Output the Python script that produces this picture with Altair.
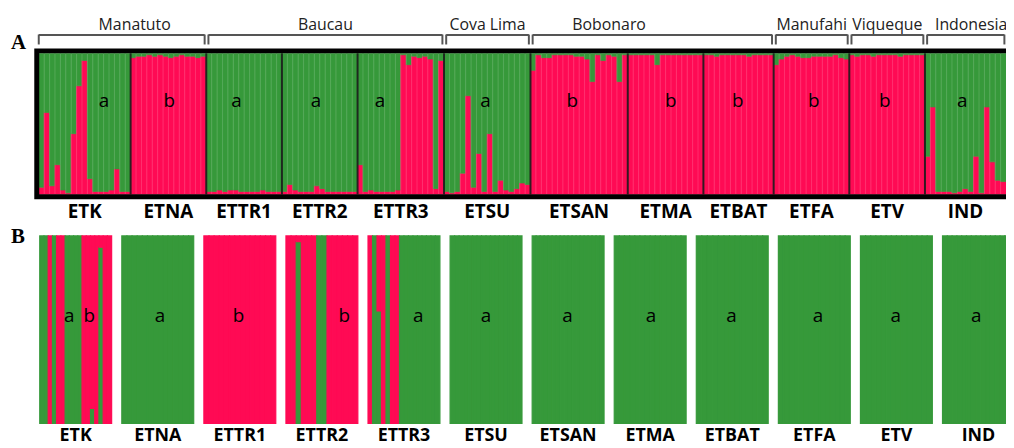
import altair as alt
import pandas as pd

# ---------------- data ----------------
POPS = ["ETK", "ETNA", "ETTR1", "ETTR2", "ETTR3", "ETSU", "ETSAN", "ETMA", "ETBAT", "ETFA", "ETV", "IND"]
REGIONS = ["Manatuto", "Baucau", "Cova Lima", "Bobonaro", "Manufahi", "Viqueque", "Indonesia"]
REGION_POPS = [["ETK", "ETNA"], ["ETTR1", "ETTR2", "ETTR3"], ["ETSU"], ["ETSAN", "ETMA", "ETBAT"],
               ["ETFA"], ["ETV"], ["IND"]]

# Panel A: proportion of each individual assigned to the red cluster
ETK_A = [0.05, 0.58, 0.06, 0.21, 0.03, 0.01, 0.43, 0.77, 0.95, 0.11, 0.02, 0.02, 0.02, 0.03, 0.18, 0.02, 0.02]
ETNA_A = [0.97, 0.98, 0.98, 0.99, 0.98, 0.99, 0.98, 0.97, 0.98, 0.99, 0.98, 0.98, 0.97, 0.98]
ETTR1_A = [0.02, 0.02, 0.03, 0.02, 0.03, 0.03, 0.02, 0.02, 0.02, 0.02, 0.03, 0.02, 0.02, 0.02]
ETTR2_A = [0.02, 0.07, 0.03, 0.02, 0.02, 0.02, 0.06, 0.04, 0.02, 0.02, 0.02, 0.02, 0.02, 0.02]
ETTR3_A = [0.21, 0.02, 0.03, 0.02, 0.02, 0.02, 0.02, 0.03, 0.99, 0.92, 0.98, 0.97, 0.98, 0.96, 0.04, 0.95]
ETSU_A = [0.02, 0.01, 0.02, 0.15, 0.70, 0.05, 0.29, 0.02, 0.43, 0.02, 0.10, 0.03, 0.02, 0.04, 0.08, 0.07]
ETSAN_A = [0.88, 0.99, 0.97, 0.97, 0.99, 0.99, 0.99, 0.99, 0.98, 0.98, 0.96, 0.80, 0.99, 0.95, 0.99, 0.98, 0.80, 0.99]
ETMA_A = [0.99, 0.99, 0.99, 0.99, 0.99, 0.92, 0.99, 0.99, 0.99, 0.99, 0.99, 0.99, 0.99, 0.99]
ETBAT_A = [0.99, 0.99, 0.98, 0.99, 0.99, 0.99, 0.99, 0.99, 0.98, 0.99, 0.99, 0.99, 0.99]
ETFA_A = [0.92, 0.96, 0.98, 0.99, 0.98, 0.97, 0.97, 0.98, 0.98, 0.98, 0.98, 0.99, 0.97, 0.96]
ETV_A = [0.99, 0.98, 0.99, 0.99, 0.98, 0.99, 0.99, 0.99, 0.99, 0.98, 0.99, 0.99, 0.99, 0.99]
IND_A = [0.27, 0.62, 0.02, 0.02, 0.02, 0.01, 0.02, 0.04, 0.02, 0.27, 0.01, 0.62, 0.23, 0.10, 0.09]
A_VALUES = [ETK_A, ETNA_A, ETTR1_A, ETTR2_A, ETTR3_A, ETSU_A, ETSAN_A, ETMA_A, ETBAT_A, ETFA_A, ETV_A, IND_A]
A_LETTERS = ["a", "b", "a", "a", "a", "a", "b", "b", "b", "b", "b", "a"]

# Panel B: proportion of each individual assigned to the green cluster
ETK_B = [1, 1, 0, 1, 0, 0, 1, 1, 1, 1, 0, 0, 0.08, 0, 0.94, 0, 0]
ETNA_B = [1, 1, 1, 1, 1, 1, 1, 1, 1, 1, 1, 1, 1, 1]
ETTR1_B = [0, 0, 0, 0, 0, 0, 0, 0, 0, 0, 0, 0, 0, 0]
ETTR2_B = [0, 0, 0.97, 0, 0, 0, 1, 1, 0, 0, 0, 0, 0, 0]
ETTR3_B = [0, 1, 0.6, 0, 1, 0, 0, 1, 1, 1, 1, 1, 1, 1, 1, 1]
ETSU_B = [1, 1, 1, 1, 1, 1, 1, 1, 1, 1, 1, 1, 1, 1, 1, 1]
ETSAN_B = [1, 1, 1, 1, 1, 1, 1, 1, 1, 1, 1, 1, 1, 1, 1, 1, 1, 1]
ETMA_B = [1, 1, 1, 1, 1, 1, 1, 1, 1, 1, 1, 1, 1, 1]
ETBAT_B = [1, 1, 1, 1, 1, 1, 1, 1, 1, 1, 1, 1, 1]
ETFA_B = [1, 1, 1, 1, 1, 1, 1, 1, 1, 1, 1, 1, 1, 1]
ETV_B = [1, 1, 1, 1, 1, 1, 1, 1, 1, 1, 1, 1, 1, 1]
IND_B = [1, 1, 1, 1, 1, 1, 1, 1, 1, 1, 1, 1, 1, 1, 1]
B_VALUES = [ETK_B, ETNA_B, ETTR1_B, ETTR2_B, ETTR3_B, ETSU_B, ETSAN_B, ETMA_B, ETBAT_B, ETFA_B, ETV_B, IND_B]
B_LETTERS = [["a", "b"], ["a"], ["b"], ["b"], ["a"], ["a"], ["a"], ["a"], ["a"], ["a"], ["a"], ["a"]]

# ---------------- layout (not data) ----------------
W, H = 1006, 440
RED = "#ff0a54"
GREEN = "#36993a"
FONT = "Open Sans"
A_LETTER_FRAC = [0.71, 0.51, 0.40, 0.45, 0.26, 0.48, 0.43, 0.57, 0.49, 0.53, 0.47, 0.46]
B_LETTER_FRAC = [[0.41, 0.69], [0.53], [0.48], [0.81], [0.70], [0.50], [0.49], [0.51], [0.49], [0.55], [0.49], [0.47]]
B_BOX = 0.876
REGION_LABEL_SHIFT = {"Manatuto": 2.4, "Bobonaro": -8.0, "Indonesia": 1.0}


def lin_domain(v0, p0, v1, p1, total, flip=False):
    if flip:
        p0, p1 = total - p0, total - p1
    s = (p1 - p0) / (v1 - v0)
    d0 = v0 - p0 / s
    return [d0, d0 + total / s]


n_total = sum(len(v) for v in A_VALUES)
xA = alt.Scale(domain=lin_domain(0, 31, n_total, 31 + 5.447 * n_total, W), nice=False, zero=False)
yA = alt.Scale(domain=lin_domain(0, 186, 1, 44, H, flip=True), nice=False, zero=False)
xB = alt.Scale(domain=lin_domain(0, 32, 11, 942, W), nice=False, zero=False)
yB = alt.Scale(domain=lin_domain(0, 417, 1, 228, H, flip=True), nice=False, zero=False)

# ---------------- tables ----------------
rows_a, stripes, seps, starts = [], [], [], {}
k = 0
for p, vals in zip(POPS, A_VALUES):
    starts[p] = k
    if k > 0:
        seps.append({"x": k, "y0": 0, "y1": 1})
    for j, r in enumerate(vals):
        rows_a.append({"x": k, "x2": k + 1, "y": 0, "y2": r, "c": "red"})
        rows_a.append({"x": k, "x2": k + 1, "y": r, "y2": 1, "c": "green"})
        if j > 0:
            stripes.append({"x": k, "y0": 0, "y1": 1})
        k += 1
df_a = pd.DataFrame(rows_a)
df_a = df_a[df_a["y2"] > df_a["y"]]
df_stripes = pd.DataFrame(stripes)
df_seps = pd.DataFrame(seps)
df_frame = pd.DataFrame([{"x": -0.37, "x2": n_total + 3, "y": -0.018, "y2": 1.018}])

df_a_lab = pd.DataFrame([{"x": starts[p] + len(v) / 2, "t": p} for p, v in zip(POPS, A_VALUES)])
df_a_let = pd.DataFrame([{"x": starts[p] + f * len(v), "t": l}
                         for p, v, l, f in zip(POPS, A_VALUES, A_LETTERS, A_LETTER_FRAC)])

br_h, br_v, reg_lab = [], [], []
for reg, pops in zip(REGIONS, REGION_POPS):
    s = starts[pops[0]] + (0.0 if reg == "Manatuto" else 0.4)
    e = starts[pops[-1]] + len(A_VALUES[POPS.index(pops[-1])]) - 0.3
    br_h.append({"x": s, "x2": e})
    br_v.append({"x": s})
    br_v.append({"x": e})
    reg_lab.append({"x": (s + e) / 2 + REGION_LABEL_SHIFT.get(reg, 0), "t": reg})
df_br_h = pd.DataFrame(br_h)
df_br_v = pd.DataFrame(br_v)
df_reg = pd.DataFrame(reg_lab)

rows_b, b_let, b_lab = [], [], []
for i, (p, vals) in enumerate(zip(POPS, B_VALUES)):
    n = len(vals)
    for j, g in enumerate(vals):
        x0 = i + j / n * B_BOX
        x1 = i + (j + 1) / n * B_BOX
        rows_b.append({"x": x0, "x2": x1, "y": 0, "y2": g, "c": "green"})
        rows_b.append({"x": x0, "x2": x1, "y": g, "y2": 1, "c": "red"})
    for l, f in zip(B_LETTERS[i], B_LETTER_FRAC[i]):
        b_let.append({"x": i + f * B_BOX, "t": l})
    b_lab.append({"x": i + B_BOX / 2, "t": p})
df_b = pd.DataFrame(rows_b)
df_b = df_b[df_b["y2"] > df_b["y"]]
df_b_let = pd.DataFrame(b_let)
df_b_lab = pd.DataFrame(b_lab)

cscale = alt.Scale(domain=["red", "green"], range=[RED, GREEN])
color = alt.Color("c:N", scale=cscale, legend=None)
stroke = alt.Stroke("c:N", scale=cscale, legend=None)

# ---------------- layers ----------------
a_bars = alt.Chart(df_a).mark_rect(clip=True, strokeWidth=0.7).encode(
    x=alt.X("x:Q", scale=xA, axis=None), x2="x2:Q",
    y=alt.Y("y:Q", scale=yA, axis=None), y2="y2:Q", color=color, stroke=stroke)
a_stripes = alt.Chart(df_stripes).mark_rule(color="white", opacity=0.13, strokeWidth=1.2).encode(
    x=alt.X("x:Q", scale=xA, axis=None), y=alt.Y("y0:Q", scale=yA, axis=None), y2="y1:Q")
a_seps = alt.Chart(df_seps).mark_rule(color="#1c1c1c", opacity=0.9, strokeWidth=2).encode(
    x=alt.X("x:Q", scale=xA, axis=None), y=alt.Y("y0:Q", scale=yA, axis=None), y2="y1:Q")
a_frame = alt.Chart(df_frame).mark_rect(fillOpacity=0, stroke="black", strokeWidth=5, clip=True).encode(
    x=alt.X("x:Q", scale=xA, axis=None), x2="x2:Q",
    y=alt.Y("y:Q", scale=yA, axis=None), y2="y2:Q")
a_letters = alt.Chart(df_a_let).mark_text(font=FONT, fontSize=19, color="black", baseline="alphabetic").encode(
    x=alt.X("x:Q", scale=xA, axis=None), y=alt.value(98), text="t:N")
a_labels = alt.Chart(df_a_lab).mark_text(font=FONT, fontSize=19, fontWeight="bold", color="black",
                                         baseline="alphabetic").encode(
    x=alt.X("x:Q", scale=xA, axis=None), y=alt.value(210), text="t:N")
br_hline = alt.Chart(df_br_h).mark_rule(color="#555555", strokeWidth=2).encode(
    x=alt.X("x:Q", scale=xA, axis=None), x2="x2:Q", y=alt.value(25.5))
br_vline = alt.Chart(df_br_v).mark_rule(color="#555555", strokeWidth=2).encode(
    x=alt.X("x:Q", scale=xA, axis=None), y=alt.value(25), y2=alt.value(35))
reg_labels = alt.Chart(df_reg).mark_text(font=FONT, fontSize=16, color="#222222", baseline="alphabetic").encode(
    x=alt.X("x:Q", scale=xA, axis=None), y=alt.value(20), text="t:N")

b_bars = alt.Chart(df_b).mark_rect(clip=True, strokeWidth=1.2).encode(
    x=alt.X("x:Q", scale=xB, axis=None), x2="x2:Q",
    y=alt.Y("y:Q", scale=yB, axis=None), y2="y2:Q", color=color, stroke=stroke)
b_letters = alt.Chart(df_b_let).mark_text(font=FONT, fontSize=19, color="black", baseline="alphabetic").encode(
    x=alt.X("x:Q", scale=xB, axis=None), y=alt.value(315), text="t:N")
b_labels = alt.Chart(df_b_lab).mark_text(font=FONT, fontSize=18, fontWeight="bold", color="black",
                                         baseline="alphabetic").encode(
    x=alt.X("x:Q", scale=xB, axis=None), y=alt.value(435), text="t:N")

panel_a = alt.Chart(df_frame).mark_text(text="A", font="Liberation Serif", fontSize=21, fontWeight="bold",
                                        align="left", baseline="alphabetic").encode(
    x=alt.value(3), y=alt.value(40))
panel_b = alt.Chart(df_frame).mark_text(text="B", font="Liberation Serif", fontSize=21, fontWeight="bold",
                                        align="left", baseline="alphabetic").encode(
    x=alt.value(3), y=alt.value(235))

chart = alt.layer(
    a_bars, a_stripes, a_seps, a_frame, a_letters, a_labels, br_hline, br_vline, reg_labels,
    b_bars, b_letters, b_labels, panel_a, panel_b
).resolve_scale(x="independent", y="independent", color="independent", stroke="independent").properties(
    width=W, height=H, padding=0, autosize=alt.AutoSizeParams(type="none")
).configure_view(strokeWidth=0)

chart.save("out.html", embed_options={"renderer": "svg", "actions": False})
